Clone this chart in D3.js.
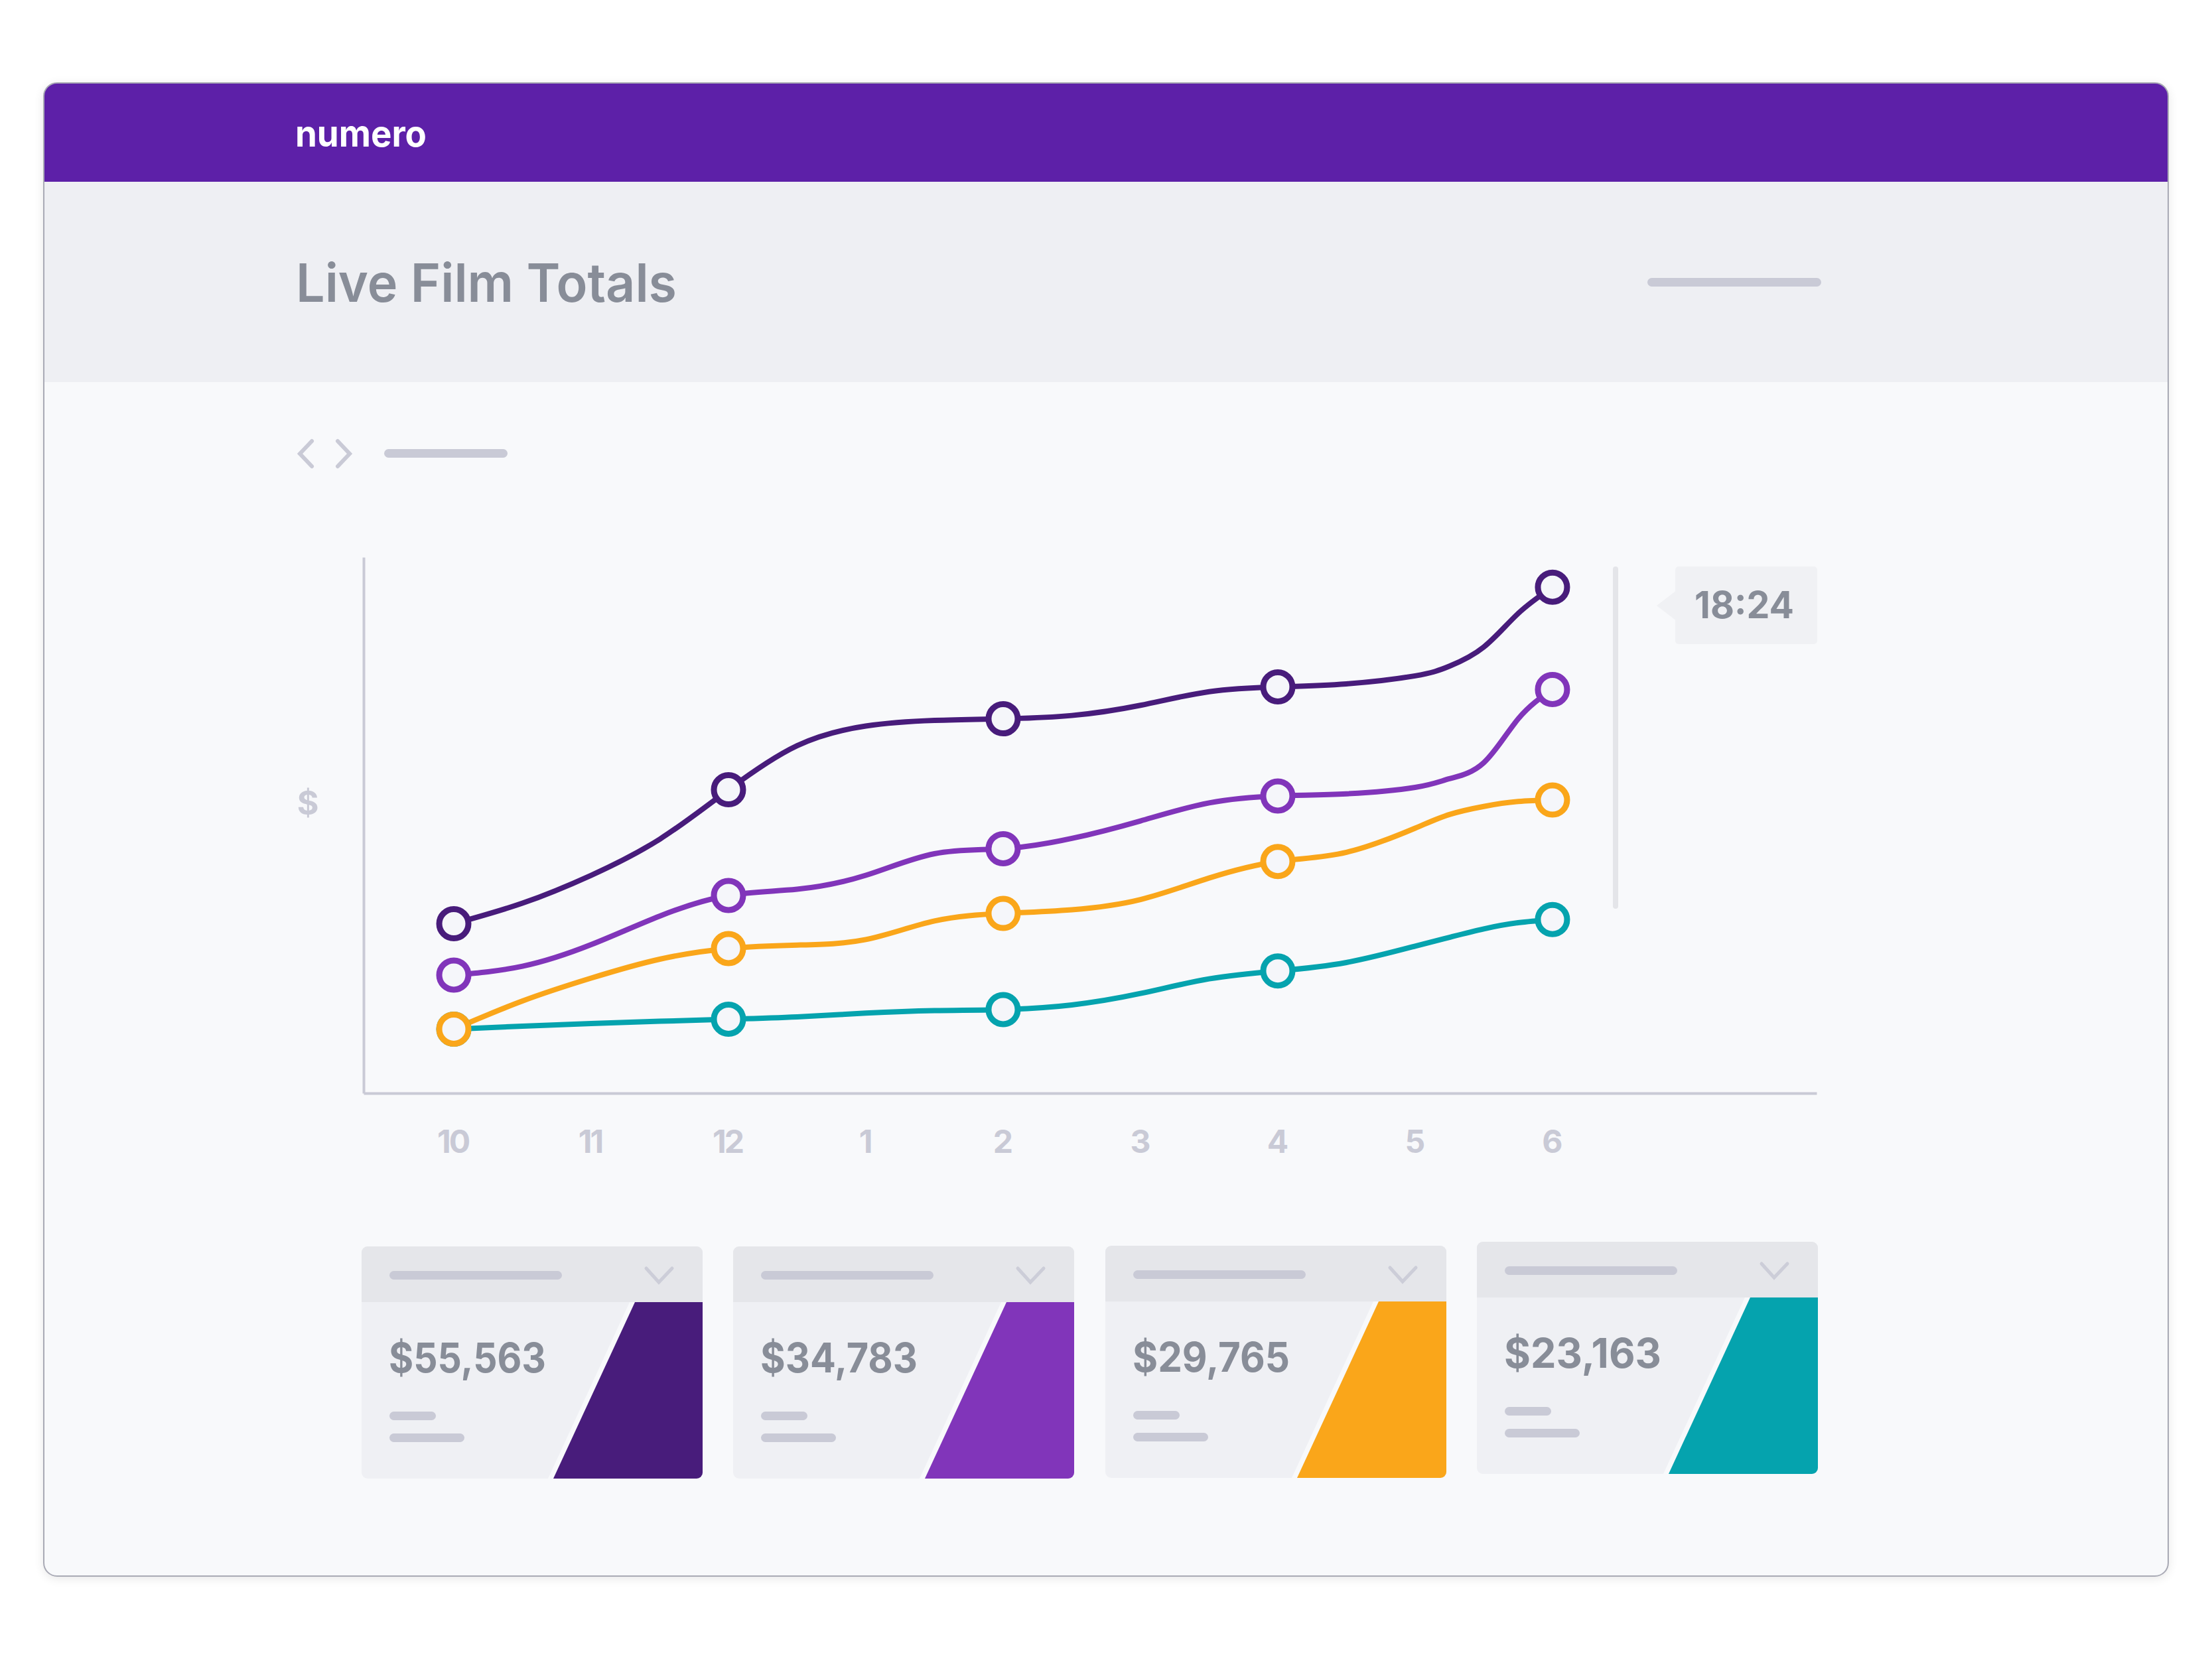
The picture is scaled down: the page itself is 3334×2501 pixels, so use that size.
<!DOCTYPE html>
<html>
<head>
<meta charset="utf-8">
<script src="https://cdn.jsdelivr.net/npm/d3@7"></script>
<style>
html, body { margin: 0; padding: 0; background: #ffffff; }
svg { display: block; }
text { font-family: Inter, Lato, sans-serif; }
</style>
</head>
<body>
<div id="div"></div>
<script>
// steps along the time axis: 0 = 10 o'clock ... 8 = 6 o'clock
var steps = [0, 0.5, 1, 1.5, 2, 2.5, 3, 3.5, 4, 4.5, 5, 5.5, 6, 6.5, 7, 7.25, 7.5, 7.75, 8];
var markerSteps = [0, 2, 4, 6, 8];
var tickLabels = ['10', '11', '12', '1', '2', '3', '4', '5', '6'];

var darkValues = [18970, 21270, 24390, 28440, 33970, 38900, 41100, 41730, 41910, 42280, 43420, 44950, 45490, 45820, 46720, 47800, 49950, 53700, 56640];
var purpleValues = [13220, 14210, 16630, 19830, 22130, 22830, 24390, 26810, 27370, 28520, 30480, 32500, 33270, 33510, 34230, 35200, 37000, 41900, 45190];
var tealValues = [7170, 7500, 7800, 8050, 8280, 8540, 8960, 9250, 9360, 9880, 11160, 12800, 13690, 14630, 16460, 17450, 18390, 19080, 19440];
var orangeValues = [7170, 10320, 12880, 15000, 16190, 16580, 17200, 19280, 20120, 20540, 21680, 24090, 25940, 26970, 29670, 31200, 32100, 32650, 32820];

var seriesValues = [darkValues, purpleValues, tealValues, orangeValues];
var seriesColors = ['#481c7b', '#8135ba', '#05a3ae', '#faa61a'];

var cardLabels = ['$55,563', '$34,783', '$29,765', '$23,163'];
var cardColors = ['#481c7b', '#8135ba', '#faa61a', '#05a3ae'];
var cardLeft = [545, 1105, 1666, 2226];
var cardTop = [1879, 1879, 1878, 1872];

var width = 3334;
var height = 2501;
var grey = '#888d98';
var light = '#c9cad6';

var svg = d3.select('#div').append('svg')
    .attr('width', width)
    .attr('height', height);

function pill(g, x, y, w, h, color) {
    return g.append('rect')
        .attr('x', x).attr('y', y)
        .attr('width', w).attr('height', h)
        .attr('rx', h / 2)
        .style('fill', color);
}

// window frame
var defs = svg.append('defs');
var shadow = defs.append('filter').attr('id', 'soft')
    .attr('x', '-2%').attr('y', '-2%').attr('width', '104%').attr('height', '104%');
shadow.append('feGaussianBlur').attr('stdDeviation', 8);
defs.append('clipPath').attr('id', 'shell')
    .append('rect').attr('x', 66).attr('y', 125).attr('width', 3202).attr('height', 2251).attr('rx', 20);

svg.append('rect')
    .attr('x', 66).attr('y', 128).attr('width', 3202).attr('height', 2251).attr('rx', 20)
    .attr('filter', 'url(#soft)')
    .style('fill', '#000').style('opacity', 0.1);

var page = svg.append('g').attr('clip-path', 'url(#shell)');
page.append('rect').attr('x', 66).attr('y', 125).attr('width', 3202).attr('height', 2251).style('fill', '#f8f9fb');
page.append('rect').attr('x', 66).attr('y', 274).attr('width', 3202).attr('height', 302).style('fill', '#eeeff3');
page.append('rect').attr('x', 66).attr('y', 125).attr('width', 3202).attr('height', 149).style('fill', '#5d20a8');

svg.append('rect')
    .attr('x', 66).attr('y', 125).attr('width', 3202).attr('height', 2251).attr('rx', 20)
    .style('fill', 'none').style('stroke', '#a9aab5').style('stroke-width', 2);

svg.append('text').text('numero')
    .attr('x', 445).attr('y', 221)
    .attr('textLength', 198).attr('lengthAdjust', 'spacingAndGlyphs')
    .style('font-size', '55px').style('font-weight', 700).style('fill', '#ffffff');

svg.append('text').text('Live Film Totals')
    .attr('x', 446).attr('y', 455)
    .attr('textLength', 574).attr('lengthAdjust', 'spacingAndGlyphs')
    .style('font-size', '80px').style('font-weight', 600).style('fill', grey);

pill(svg, 2483, 419, 262, 13, light);

// pager
var chevron = d3.line();
svg.append('path')
    .attr('d', chevron([[470, 665], [452, 684], [470, 703]]))
    .style('fill', 'none').style('stroke', light).style('stroke-width', 6).style('stroke-linecap', 'round');
svg.append('path')
    .attr('d', chevron([[509, 665], [527, 684], [509, 703]]))
    .style('fill', 'none').style('stroke', light).style('stroke-width', 6).style('stroke-linecap', 'round');
pill(svg, 579, 677, 186, 13, light);

// chart
var x = d3.scaleLinear().domain([-0.657, 9.923]).range([548, 2738]);
var y = d3.scaleLinear().domain([0, 60000]).range([1648, 840]);

var xAxis = d3.axisBottom(x)
    .tickValues(d3.range(tickLabels.length))
    .tickFormat(function (d) { return tickLabels[d]; })
    .tickSize(0)
    .tickSizeOuter(0)
    .tickPadding(56);
var yAxis = d3.axisLeft(y).tickValues([]).tickSize(0).tickSizeOuter(0);

var xG = svg.append('g').attr('transform', 'translate(0,1648)').call(xAxis);
var yG = svg.append('g').attr('transform', 'translate(548,0)').call(yAxis);
xG.select('.domain').style('stroke', light).style('stroke-width', 4);
yG.select('.domain').style('stroke', light).style('stroke-width', 4);
xG.selectAll('text')
    .attr('dx', -2)
    .style('font-family', 'Inter, sans-serif')
    .style('font-size', '48px').style('font-weight', 700).style('letter-spacing', '-3px').style('fill', light);

svg.append('text').text('$')
    .attr('x', 464).attr('y', 1228)
    .attr('text-anchor', 'middle')
    .style('font-size', '50px').style('font-weight', 700).style('fill', light);

var line = d3.line()
    .x(function (d) { return x(d.step); })
    .y(function (d) { return y(d.value); })
    .curve(d3.curveNatural);

seriesValues.forEach(function (values, i) {
    var points = steps.map(function (s, k) { return { step: s, value: values[k] }; });
    svg.append('path')
        .datum(points)
        .attr('d', line)
        .style('fill', 'none')
        .style('stroke', seriesColors[i])
        .style('stroke-width', 8);
});

seriesValues.forEach(function (values, i) {
    var points = steps.map(function (s, k) { return { step: s, value: values[k] }; })
        .filter(function (d) { return markerSteps.indexOf(d.step) !== -1; });
    svg.append('g').selectAll('circle')
        .data(points)
        .enter()
        .append('circle')
        .attr('cx', function (d) { return x(d.step); })
        .attr('cy', function (d) { return y(d.value); })
        .attr('r', 22)
        .style('fill', '#f5f6fa')
        .style('stroke', seriesColors[i])
        .style('stroke-width', 9);
});

// current time marker
svg.append('rect')
    .attr('x', 2431).attr('y', 854).attr('width', 8).attr('height', 516).attr('rx', 4)
    .style('fill', '#e4e5e9');
svg.append('path')
    .attr('d', 'M2527,890 L2497,913 L2527,936 Z')
    .style('fill', '#f0f1f4');
svg.append('rect')
    .attr('x', 2525).attr('y', 854).attr('width', 214).attr('height', 117).attr('rx', 5)
    .style('fill', '#f0f1f4');
svg.append('text').text('18:24')
    .attr('x', 2554).attr('y', 932)
    .attr('textLength', 150).attr('lengthAdjust', 'spacingAndGlyphs')
    .style('font-size', '56px').style('font-weight', 700).style('fill', grey);

// totals cards
var cardW = 514;
var cardH = 350;
cardLabels.forEach(function (label, i) {
    var cx = cardLeft[i];
    var cy = cardTop[i];
    var clipId = 'card' + i;
    defs.append('clipPath').attr('id', clipId)
        .append('rect').attr('x', cx).attr('y', cy).attr('width', cardW).attr('height', cardH).attr('rx', 9);

    var g = svg.append('g');
    var inner = g.append('g').attr('clip-path', 'url(#' + clipId + ')');
    inner.append('rect').attr('x', cx).attr('y', cy).attr('width', cardW).attr('height', cardH).style('fill', '#eff0f4');
    inner.append('rect').attr('x', cx).attr('y', cy).attr('width', cardW).attr('height', 84).style('fill', '#e5e6ea');
    // thin light edge left of the coloured block
    inner.append('polygon')
        .attr('points', [[cx + 404, cy + 84], [cx + 281, cy + cardH], [cx + 289, cy + cardH], [cx + 412, cy + 84]].join(' '))
        .style('fill', '#f8f9fb');
    inner.append('polygon')
        .attr('points', [[cx + 412, cy + 84], [cx + cardW, cy + 84], [cx + cardW, cy + cardH], [cx + 289, cy + cardH]].join(' '))
        .style('fill', cardColors[i]);

    pill(g, cx + 42, cy + 37, 260, 13, light);
    g.append('path')
        .attr('d', chevron([[cx + 429, cy + 33], [cx + 448, cy + 54], [cx + 468, cy + 33]]))
        .style('fill', 'none').style('stroke', '#cccdd8').style('stroke-width', 5).style('stroke-linecap', 'round');

    g.append('text').text(label)
        .attr('x', cx + 41).attr('y', cy + 190)
        .attr('textLength', 237).attr('lengthAdjust', 'spacingAndGlyphs')
        .style('font-size', '62px').style('font-weight', 700).style('fill', grey);

    pill(g, cx + 42, cy + 249, 70, 13, light);
    pill(g, cx + 42, cy + 282, 113, 13, light);
});
</script>
</body>
</html>
